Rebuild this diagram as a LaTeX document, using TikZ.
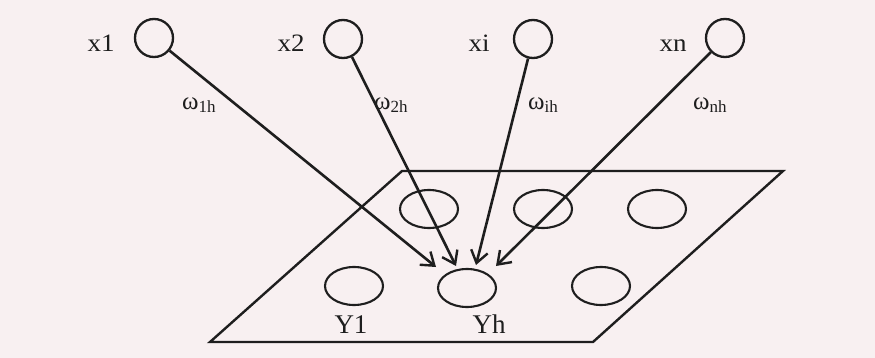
\documentclass[tikz,border=0pt]{standalone}
\usepackage{fontspec}
\setmainfont{Liberation Serif}
\usetikzlibrary{arrows.meta,shapes.geometric}
\definecolor{paper}{RGB}{248,240,241}
\definecolor{ink}{RGB}{30,30,30}
\begin{document}
\begin{tikzpicture}[x=1pt,y=-1pt,
  inp/.style={draw=ink,line width=2.3pt,circle,minimum size=38pt,inner sep=0pt},
  hid/.style={draw=ink,line width=2.1pt,ellipse,minimum width=58pt,minimum height=38pt,inner sep=0pt},
  lab/.style={anchor=base,font=\fontsize{25}{25}\selectfont,text=ink,inner sep=0pt,xscale=1.08},
  ylab/.style={anchor=base,font=\fontsize{27}{27}\selectfont,text=ink,inner sep=0pt},
  wlab/.style={anchor=base west,text=ink,inner sep=0pt},
  conn/.style={draw=ink,line width=2.6pt,-{Straight Barb[length=12pt,width=17pt,line width=2.4pt]}},
  plane/.style={draw=ink,line width=2.4pt,line join=miter}]
\useasboundingbox (0,0) rectangle (875,358);
\fill[paper] (0,0) rectangle (875,358);
% plane
\coordinate (p1) at (402,171);
\coordinate (p2) at (783,171);
\coordinate (p3) at (593,342);
\coordinate (p4) at (210,342);
\draw[plane] (p1) -- (p2) -- (p3) -- (p4) -- cycle;
% hidden nodes
\node[hid] (h1) at (429,209) {};
\node[hid] (h2) at (543,209) {};
\node[hid] (h3) at (657,209) {};
\node[hid] (y1) at (354,286) {};
\node[hid] (yh) at (467,288) {};
\node[hid] (h4) at (601,286) {};
\node[ylab] (ly1) at (351,333) {Y1};
\node[ylab] (lyh) at (489,333) {Yh};
% inputs
\node[inp] (x1) at (154,38) {};
\node[inp] (x2) at (343,39) {};
\node[inp] (xi) at (533,39) {};
\node[inp] (xn) at (725,38) {};
\node[lab] (lx1) at (101,52) {x1};
\node[lab] (lx2) at (291,52) {x2};
\node[lab] (lxi) at (479,52) {xi};
\node[lab] (lxn) at (673,52) {xn};
% arrow targets
\coordinate (t1) at (436,267);
\coordinate (t2) at (456,266);
\coordinate (t3) at (476,265);
\coordinate (t4) at (496,266);
\draw[conn] (x1) -- (t1);
\draw[conn] (x2) -- (t2);
\draw[conn] (xi) -- (t3);
\draw[conn] (xn) -- (t4);
% weights
\newcommand{\wgt}[1]{{\fontsize{25}{25}\selectfont ω}\raisebox{-3pt}{\fontsize{17}{17}\selectfont #1}}
\node[wlab] (w1) at (182,110) {\wgt{1h}};
\node[wlab] (w2) at (374,110) {\wgt{2h}};
\node[wlab] (wi) at (528,110) {\wgt{ih}};
\node[wlab] (wn) at (693,110) {\wgt{nh}};
\end{tikzpicture}
\end{document}
